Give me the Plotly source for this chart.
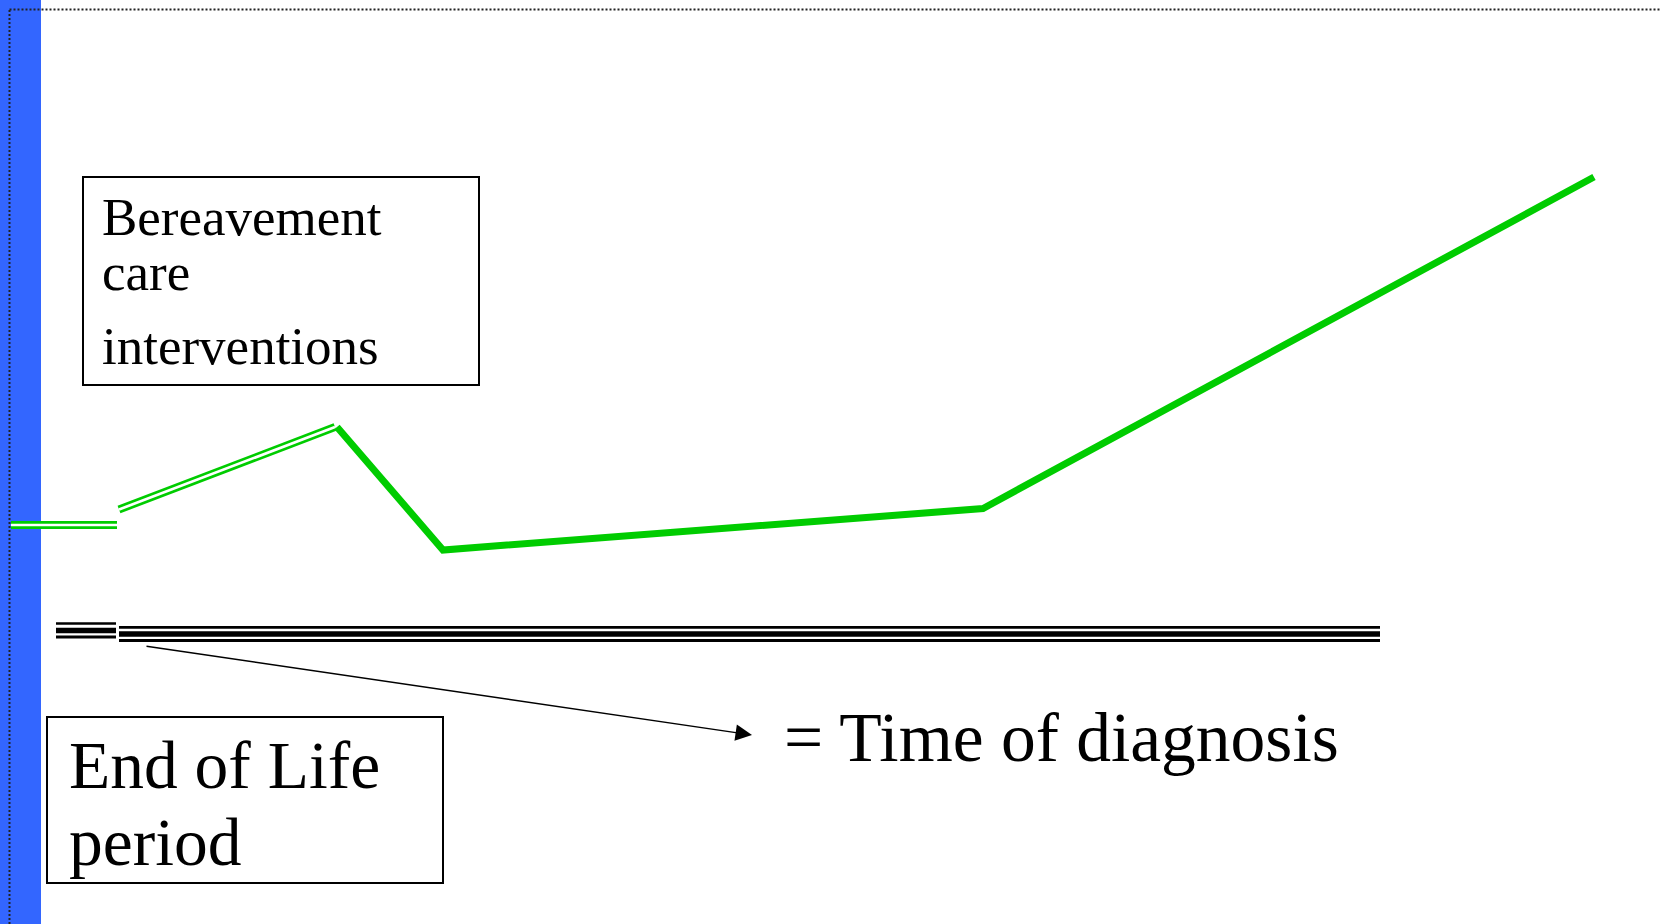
import plotly.graph_objects as go

W, H = 1661, 924

# ---- data (diagram coordinates: x to the right, y upward) ----
# green trajectory: two "double-line" segments followed by a solid trajectory
double_seg1_x = [11, 117]
double_seg1_y = [399, 399]
double_seg2_x = [119, 335]
double_seg2_y = [414.5, 497]
solid_x = [337, 443, 983, 1594]
solid_y = [497, 374, 415.5, 747]

# black triple timeline (time of diagnosis marker + timeline)
marker_x = [56, 116]
marker_y = [300.5, 293.5, 287]
timeline_x = [119, 1380]
timeline_y = [296.7, 290, 283.5]

# arrow from marker to label
arrow_from = (145, 278)
arrow_to = (752, 189)

box_bereavement = (83, 479, 539, 747)
box_eol = (47, 443, 41, 207)

label_bereavement = ["Bereavement", "care", "interventions"]
label_bereavement_y = [707.5, 652.5, 578.5]
label_eol = ["End of Life", "period"]
label_eol_y = [158.3, 81.3]
label_diag = "= Time of diagnosis"

GREEN = "#00CC00"
BLUE = "#3366FF"
FONT = "Liberation Serif"

fig = go.Figure()

def double_line(xs, ys):
    fig.add_trace(go.Scatter(x=xs, y=ys, mode="lines",
                             line=dict(color=GREEN, width=8),
                             hoverinfo="skip", showlegend=False))
    fig.add_trace(go.Scatter(x=xs, y=ys, mode="lines",
                             line=dict(color="white", width=2.7),
                             hoverinfo="skip", showlegend=False))

double_line(double_seg1_x, double_seg1_y)
double_line(double_seg2_x, double_seg2_y)

fig.add_trace(go.Scatter(x=solid_x, y=solid_y, mode="lines",
                         line=dict(color=GREEN, width=7),
                         hoverinfo="skip", showlegend=False))

widths = [2.7, 5.5, 3]
for yv, w in zip(marker_y, widths):
    fig.add_trace(go.Scatter(x=marker_x, y=[yv, yv], mode="lines",
                             line=dict(color="black", width=w),
                             hoverinfo="skip", showlegend=False))
for yv, w in zip(timeline_y, widths):
    fig.add_trace(go.Scatter(x=timeline_x, y=[yv, yv], mode="lines",
                             line=dict(color="black", width=w),
                             hoverinfo="skip", showlegend=False))

shapes = [
    dict(type="rect", xref="x", yref="y", x0=0, x1=41, y0=0, y1=H,
         fillcolor=BLUE, line=dict(width=0), layer="below"),
    dict(type="line", xref="x", yref="y", x0=9.5, x1=9.5, y0=0, y1=H - 9.5,
         line=dict(color="#222222", width=2, dash="2px,2px")),
    dict(type="line", xref="x", yref="y", x0=9.5, x1=W, y0=H - 9.5, y1=H - 9.5,
         line=dict(color="#222222", width=2, dash="2px,2px")),
    dict(type="rect", xref="x", yref="y",
         x0=box_bereavement[0], x1=box_bereavement[1],
         y0=box_bereavement[2], y1=box_bereavement[3],
         line=dict(color="black", width=2), fillcolor="rgba(0,0,0,0)"),
    dict(type="rect", xref="x", yref="y",
         x0=box_eol[0], x1=box_eol[1], y0=box_eol[2], y1=box_eol[3],
         line=dict(color="black", width=2), fillcolor="rgba(0,0,0,0)"),
]

annotations = []
for t, yv in zip(label_bereavement, label_bereavement_y):
    annotations.append(dict(x=100, y=yv, xref="x", yref="y", text=t,
                            showarrow=False, xanchor="left", yanchor="middle",
                            font=dict(family=FONT, size=53, color="black")))
for t, yv in zip(label_eol, label_eol_y):
    annotations.append(dict(x=67, y=yv, xref="x", yref="y", text=t,
                            showarrow=False, xanchor="left", yanchor="middle",
                            font=dict(family=FONT, size=67.5, color="black")))
annotations.append(dict(x=782, y=187, xref="x", yref="y", text=label_diag,
                        showarrow=False, xanchor="left", yanchor="middle",
                        font=dict(family=FONT, size=69.5, color="black")))
annotations.append(dict(x=arrow_to[0], y=arrow_to[1], ax=arrow_from[0], ay=arrow_from[1],
                        xref="x", yref="y", axref="x", ayref="y", text="",
                        showarrow=True, arrowhead=2, arrowsize=2.2, arrowwidth=1.5,
                        arrowcolor="black", standoff=0, startstandoff=0))

fig.update_layout(
    width=W, height=H,
    margin=dict(l=0, r=0, t=0, b=0),
    paper_bgcolor="white", plot_bgcolor="white",
    xaxis=dict(range=[0, W], visible=False, fixedrange=True),
    yaxis=dict(range=[0, H], visible=False, fixedrange=True),
    shapes=shapes, annotations=annotations, showlegend=False,
)

fig.write_html("out.html",
               config={"displayModeBar": False},
               post_script="document.body.style.margin='0';document.body.style.overflow='hidden';")
